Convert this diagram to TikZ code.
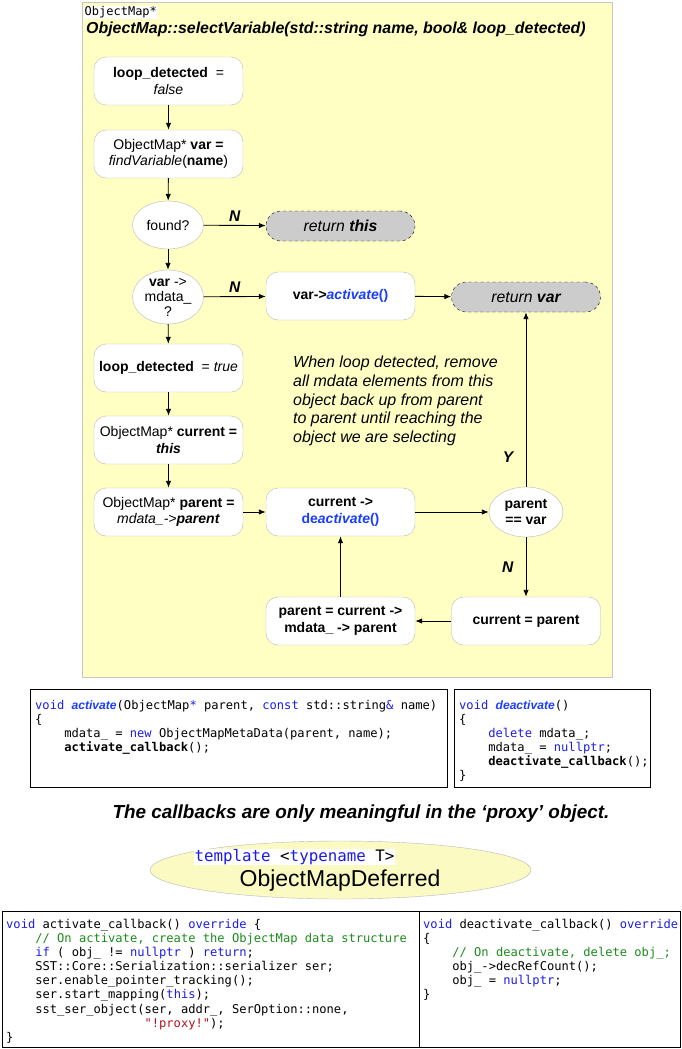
\documentclass[tikz,border=0pt]{standalone}
\usepackage{fontspec}
\setmainfont{Liberation Sans}
\setsansfont{Liberation Sans}
\setmonofont{DejaVu Sans Mono}
\usepackage{xcolor}
\usetikzlibrary{arrows.meta,positioning,shapes.geometric}

\definecolor{panelyellow}{HTML}{FFFFC4}
\definecolor{ovalyellow}{HTML}{FAFAC2}
\definecolor{retgray}{HTML}{CCCCCC}
\definecolor{callblue}{HTML}{1A3DFF}
\definecolor{kwblue}{HTML}{1C1CE6}
\definecolor{cmtgreen}{HTML}{1B8A1B}
\definecolor{strred}{HTML}{B2141E}
\newcommand{\kwd}[1]{\textcolor{kwblue}{#1}}
\newcommand{\cmt}[1]{\textcolor{cmtgreen}{#1}}
\newcommand{\strlit}[1]{\textcolor{strred}{#1}}
\newcommand{\ind}{\hphantom{xxxx}}
\newcommand{\callname}[1]{\textcolor{callblue}{\textsf{\textbf{\textit{#1}}}}}

\begin{document}
\begin{tikzpicture}[x=1pt, y=-1pt,
    every node/.style={font=\fontsize{14}{16.7}\selectfont},
    stepbox/.style={draw=gray!55, fill=white, rounded corners=12pt, minimum width=149pt, minimum height=48pt, align=center, inner sep=2pt},
    test/.style={ellipse, draw=gray!55, fill=white, minimum width=71pt, minimum height=48pt, inner sep=0pt, align=center},
    retbox/.style={draw, dashed, fill=retgray, rounded corners=15pt, minimum width=149pt, minimum height=30pt, font=\fontsize{15.8}{18}\selectfont\itshape},
    flow/.style={-{Latex[length=7pt, width=5.5pt]}, line width=0.9pt},
    lbl/.style={font=\fontsize{15.5}{17}\selectfont\bfseries\itshape},
    codebox/.style={draw, line width=0.9pt, inner sep=0pt},
    code/.style={font=\fontsize{12.1}{14.1}\selectfont\ttfamily, align=left, anchor=north west, inner sep=0pt}
]
    \useasboundingbox (0,0) rectangle (682,1049);
    % panel
    \node[draw=gray!45, fill=panelyellow, minimum width=530pt, minimum height=675pt, inner sep=0pt] (panel) at (347,339.5) {};
    \node[fill=white, inner sep=1pt, anchor=west, font=\fontsize{12}{14}\selectfont\ttfamily] (rtype) at (83.5,12.5) {ObjectMap*};
    \node[anchor=west, inner sep=0pt, font=\fontsize{15.9}{18}\selectfont\bfseries\itshape] (title) at (86,29) {ObjectMap::selectVariable(std::string name, bool\& loop\_detected)};

    % flow chart
    \node[stepbox] (init) at (168.5,81) {\textbf{loop\_detected} ~=\\ \textit{false}};
    \node[stepbox] (find) at (168.5,154) {ObjectMap* \textbf{var =}\\ \textit{findVariable}(\textbf{name})};
    \node[test] (found) at (168,225) {found?};
    \node[retbox] (retthis) at (340.5,226) {return \textbf{this}};
    \node[test, font=\fontsize{14}{15}\selectfont] (hasmd) at (168,297) {\textbf{var} ->\\ mdata\_\\ ?};
    \node[stepbox] (act) at (340.5,296) {\textbf{var->\textcolor{callblue}{\textit{activate}()}}};
    \node[retbox] (retvar) at (526,297) {return \textbf{var}};
    \node[stepbox] (loopt) at (168.5,368) {\textbf{loop\_detected} ~= \textit{true}};
    \node[stepbox] (cur) at (168.5,440) {ObjectMap* \textbf{current =}\\ \textbf{\textit{this}}};
    \node[stepbox] (par) at (168.5,512) {ObjectMap* \textbf{parent =}\\ \textit{mdata\_->\textbf{parent}}};
    \node[stepbox] (deact) at (340.5,512) {\textbf{current ->}\\ \textcolor{callblue}{\textbf{de\textit{activate}()}}};
    \node[test, minimum width=74pt, minimum height=50pt, font=\fontsize{14}{16.7}\selectfont\bfseries] (pareq) at (526,512) {parent\\ == var};
    \node[stepbox, font=\fontsize{14}{16.7}\selectfont\bfseries] (curpar) at (526,621) {current = parent};
    \node[stepbox, font=\fontsize{14}{16.7}\selectfont\bfseries] (up) at (340.5,621) {parent = current ->\\ mdata\_ -> parent};
    \node[anchor=west, inner sep=0pt, align=left, font=\fontsize{16}{18.7}\selectfont\itshape] (note) at (293,401) {When loop detected, remove\\ all mdata elements from this\\ object back up from parent\\ to parent until reaching the\\ object we are selecting};

    \draw[flow] (init) -- (find);
    \draw[flow] (find) -- (found);
    \draw[flow] (found) -- (hasmd);
    \draw[flow] (found) -- (retthis) node[midway, above, lbl] {N};
    \draw[flow] (hasmd) -- (act) node[midway, above, lbl] {N};
    \draw[flow] (act) -- (retvar);
    \draw[flow] (hasmd) -- (loopt);
    \draw[flow] (loopt) -- (cur);
    \draw[flow] (cur) -- (par);
    \draw[flow] (par) -- (deact);
    \draw[flow] (deact) -- (pareq);
    \draw[flow] (pareq) -- (retvar) node[pos=0.17, left=9pt, lbl] {Y};
    \draw[flow] (pareq) -- (curpar) node[midway, left=9pt, lbl] {N};
    \draw[flow] (curpar) -- (up);
    \draw[flow] (up) -- (deact);

    % member functions
    \node[codebox, minimum width=417pt, minimum height=98pt] (actbox) at (238.5,738) {};
    \node[code] (actcode) at (35,700) {\kwd{void} \callname{activate}(ObjectMap\kwd{*} parent, \kwd{const} std::string\kwd{\&} name)\\
\{\\
\ind mdata\_ = \kwd{new} ObjectMapMetaData(parent, name);\\
\ind\textbf{activate\_callback}();};
    \node[codebox, minimum width=196pt, minimum height=98pt] (deactbox) at (552,738) {};
    \node[code] (deactcode) at (459,700) {\kwd{void} \callname{deactivate}()\\
\{\\
\ind\kwd{delete} mdata\_;\\
\ind mdata\_ = \kwd{nullptr};\\
\ind\textbf{deactivate\_callback}();\\
\}};

    \node[font=\fontsize{18.9}{21}\selectfont\bfseries\itshape] (remark) at (361,814) {The callbacks are only meaningful in the ‘proxy’ object.};

    % proxy class
    \node[ellipse, draw=gray!55, fill=ovalyellow, minimum width=381pt, minimum height=58pt] (proxy) at (340.5,870) {};
    \node[fill=white, inner sep=0.5pt, font=\fontsize{15.8}{18}\selectfont\ttfamily] (tmpl) at (294.5,857) {\kwd{template} <\kwd{typename} T>};
    \node[font=\fontsize{23}{26}\selectfont] (pname) at (340,881) {ObjectMapDeferred};

    % callbacks
    \node[codebox, minimum width=417pt, minimum height=136pt] (acbbox) at (210.5,979) {};
    \node[code] (acbcode) at (6,919) {\kwd{void} activate\_callback() \kwd{override} \{\\
\ind\cmt{// On activate, create the ObjectMap data structure}\\
\ind\kwd{if} ( obj\_ != \kwd{nullptr} ) \kwd{return};\\
\ind SST::Core::Serialization::serializer ser;\\
\ind ser.enable\_pointer\_tracking();\\
\ind ser.start\_mapping(\kwd{this});\\
\ind sst\_ser\_object(ser, addr\_, SerOption::none,\\
\hphantom{xxxxxxxxxxxxxxxxxxx}\strlit{"!proxy!"});\\
\}};
    \node[codebox, minimum width=261pt, minimum height=136pt] (dcbbox) at (549.5,979) {};
    \node[code] (dcbcode) at (423,919) {\kwd{void} deactivate\_callback() \kwd{override}\\
\{\\
\ind\cmt{// On deactivate, delete obj\_;}\\
\ind obj\_->decRefCount();\\
\ind obj\_ = \kwd{nullptr};\\
\}};
\end{tikzpicture}
\end{document}
